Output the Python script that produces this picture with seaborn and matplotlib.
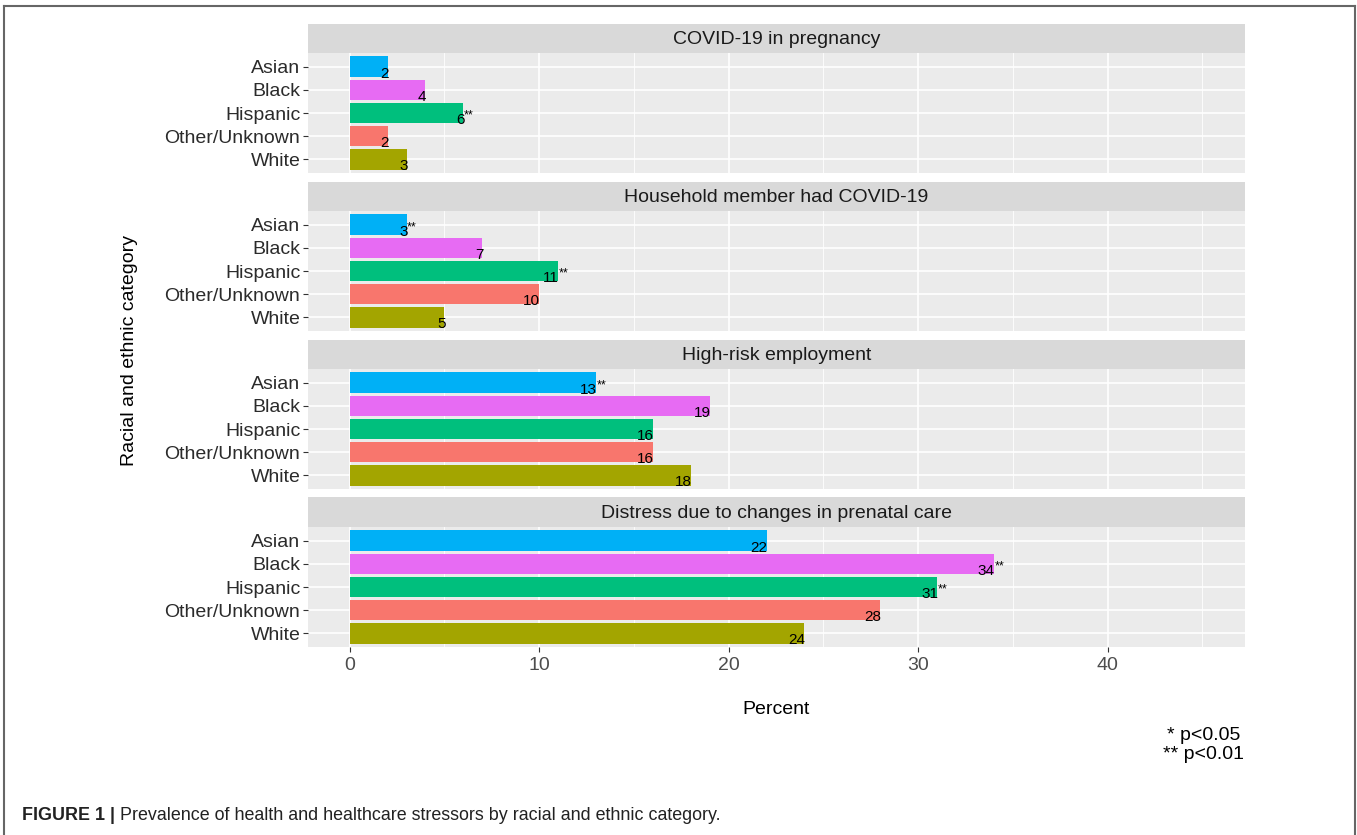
import numpy as np
import pandas as pd
import matplotlib
matplotlib.use("Agg")
import matplotlib.pyplot as plt
from matplotlib.lines import Line2D
import seaborn as sns

# ---------------------------------------------------------------
# data
# ---------------------------------------------------------------
stressors = ["COVID-19 in pregnancy", "Household member had COVID-19",
             "High-risk employment", "Distress due to changes in prenatal care"]
groups = ["Asian", "Black", "Hispanic", "Other/Unknown", "White"]

covid_pregnancy = [2, 4, 6, 2, 3]
household_covid = [3, 7, 11, 10, 5]
high_risk_job = [13, 19, 16, 16, 18]
prenatal_distress = [22, 34, 31, 28, 24]

sig_covid_pregnancy = ["", "", "**", "", ""]
sig_household_covid = ["**", "", "**", "", ""]
sig_high_risk_job = ["**", "", "", "", ""]
sig_prenatal_distress = ["", "**", "**", "", ""]

x_ticks = [0, 10, 20, 30, 40]

values = [covid_pregnancy, household_covid, high_risk_job, prenatal_distress]
sigs = [sig_covid_pregnancy, sig_household_covid, sig_high_risk_job, sig_prenatal_distress]

# ggplot hue colours, as mapped in the original
colors = {"Asian": "#00B0F6", "Black": "#E76BF3", "Hispanic": "#00BF7D",
          "Other/Unknown": "#F8766D", "White": "#A3A500"}

rows = []
for s, vals in zip(stressors, values):
    for g, v in zip(groups, vals):
        rows.append({"stressor": s, "group": g, "pct": v})
df = pd.DataFrame(rows)

# ---------------------------------------------------------------
# figure
# ---------------------------------------------------------------
plt.rcParams["font.family"] = ["Liberation Sans", "DejaVu Sans"]
W, H = 1357, 835
fig = plt.figure(figsize=(W / 100, H / 100), dpi=100)

def fx(px):
    return px / W

def fy(py):
    return 1 - py / H

left, right = 308, 1245
strips = [(24, 53), (182, 211), (340, 369), (497, 527)]
panels = [(53, 173), (211, 331), (369, 489), (527, 647)]

for i, s in enumerate(stressors):
    st, sb = strips[i]
    ax_s = fig.add_axes([fx(left), fy(sb), fx(right) - fx(left), (sb - st) / H])
    ax_s.set_facecolor("#D9D9D9")
    ax_s.set_xticks([])
    ax_s.set_yticks([])
    for sp in ax_s.spines.values():
        sp.set_visible(False)
    ax_s.text(0.5, 0.45, s, ha="center", va="center", fontsize=14, color="#1A1A1A",
              transform=ax_s.transAxes)

    pt, pb = panels[i]
    ax = fig.add_axes([fx(left), fy(pb), fx(right) - fx(left), (pb - pt) / H])
    sub = df[df["stressor"] == s]
    sns.barplot(data=sub, x="pct", y="group", hue="group", order=groups,
                hue_order=groups, palette=colors, width=0.9, saturation=1,
                legend=False, ax=ax, linewidth=0)
    ax.set_xlim(-2.2, 47.25)
    ax.set_ylim(4.6, -0.6)
    ax.set_facecolor("#EBEBEB")
    ax.set_xticks(x_ticks)
    ax.set_xticks([5, 15, 25, 35, 45], minor=True)
    ax.set_axisbelow(True)
    ax.grid(which="major", color="white", linewidth=1.2)
    ax.grid(which="minor", axis="x", color="white", linewidth=0.6)
    for sp in ax.spines.values():
        sp.set_visible(False)
    ax.set_xlabel("")
    ax.set_ylabel("")
    ax.tick_params(axis="y", labelsize=14, labelcolor="#2B2B2B", color="#333333",
                   length=3.5, width=0.8, pad=2)
    ax.tick_params(axis="x", which="minor", length=0)
    if i < 3:
        ax.tick_params(axis="x", which="major", labelbottom=False, length=0)
    else:
        ax.tick_params(axis="x", which="major", labelsize=14, labelcolor="#4D4D4D",
                       color="#333333", length=3.5, width=0.8, pad=4)

    for j, (v, sg) in enumerate(zip(values[i], sigs[i])):
        ax.text(v + 0.05, j + 0.47, str(v), ha="right", va="baseline",
                fontsize=11, color="black")
        if sg:
            ax.text(v + 0.02, j + 0.1, sg, ha="left", va="center",
                    fontsize=9, color="black")

# axis titles
fig.text(fx((left + right) / 2), fy(709), "Percent", ha="center", va="center",
         fontsize=14, color="black")
fig.text(fx(130), fy(350), "Racial and ethnic category", ha="center", va="center",
         rotation=90, fontsize=14, color="black")

# significance note
fig.text(fx(1244), fy(745), "* p<0.05\n** p<0.01", ha="right", va="center",
         multialignment="center", fontsize=14, color="black", linespacing=1.1)

# caption
renderer = fig.canvas.get_renderer()
cap1 = fig.text(fx(22), fy(816), "FIGURE 1 | ", ha="left", va="center",
                fontsize=12.9, fontweight="bold", color="#222222")
bb = cap1.get_window_extent(renderer=renderer)
fig.text(bb.x1 / W, fy(816), "Prevalence of health and healthcare stressors by racial and ethnic category.",
         ha="left", va="center", fontsize=12.9, color="#222222")

# frame around the figure
frame_color = "#666666"
fig.add_artist(Line2D([fx(4), fx(4)], [0, fy(6)], color=frame_color, lw=1.5))
fig.add_artist(Line2D([fx(4), fx(1355)], [fy(6), fy(6)], color=frame_color, lw=1.5))
fig.add_artist(Line2D([fx(1355), fx(1355)], [0, fy(6)], color=frame_color, lw=1.5))

fig.savefig("out.png", dpi=100)
plt.close(fig)
